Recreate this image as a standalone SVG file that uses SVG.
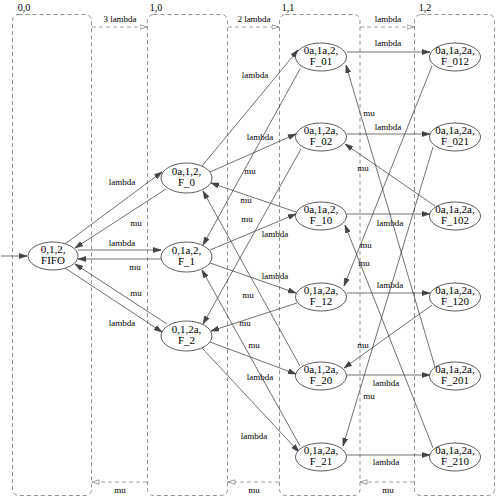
<svg xmlns="http://www.w3.org/2000/svg" width="496" height="498" viewBox="0 0 496 498">
<style>
.cl{fill:none;stroke:#777;stroke-width:0.8;stroke-dasharray:4,3}
.cc{fill:none;stroke:#888;stroke-width:0.8;stroke-dasharray:4,3}
.n{fill:#fff;stroke:#333;stroke-width:0.8}
.e{fill:none;stroke:#333;stroke-width:0.7}
.t{font-family:"Liberation Serif","Times New Roman",serif;font-size:11px;fill:#000;text-anchor:middle}
.l{font-family:"Liberation Serif","Times New Roman",serif;font-size:9px;fill:#000;text-anchor:middle}
.ct{font-family:"Liberation Serif","Times New Roman",serif;font-size:10px;fill:#000;text-anchor:middle}
</style>
<defs>
<marker id="a" markerUnits="userSpaceOnUse" markerWidth="8" markerHeight="6" refX="8" refY="3" orient="auto"><path d="M0,0.4 L8,3 L0,5.6 z" fill="#444" stroke="#333" stroke-width="0.5"/></marker>
<marker id="o" markerUnits="userSpaceOnUse" markerWidth="8" markerHeight="6" refX="7.5" refY="3" orient="auto"><path d="M0.5,0.8 L7.5,3 L0.5,5.2 z" fill="#fff" stroke="#777" stroke-width="0.7"/></marker>
</defs>
<g id="clusters">
<g id="c00"><rect class="cl" x="12.5" y="14.5" width="79" height="481" rx="6"/><text class="ct" x="24" y="11">0,0</text></g>
<g id="c10"><rect class="cl" x="147.5" y="14.5" width="80" height="481" rx="6"/><text class="ct" x="156" y="11">1,0</text></g>
<g id="c11"><rect class="cl" x="279.5" y="14.5" width="80.5" height="481" rx="6"/><text class="ct" x="288" y="11">1,1</text></g>
<g id="c12"><rect class="cl" x="414.5" y="14.5" width="80" height="481" rx="6"/><text class="ct" x="425" y="11">1,2</text></g>
</g>
<g id="connectors">
<line class="cc" x1="92" y1="27" x2="147" y2="27" marker-end="url(#o)"/>
<text class="l" x="120" y="21.5">3 lambda</text>
<line class="cc" x1="228" y1="27" x2="279" y2="27" marker-end="url(#o)"/>
<text class="l" x="254" y="21.5">2 lambda</text>
<line class="cc" x1="360" y1="27" x2="414" y2="27" marker-end="url(#o)"/>
<text class="l" x="388" y="21.5">lambda</text>
<line class="cc" x1="147" y1="482" x2="92" y2="482" marker-end="url(#o)"/>
<text class="l" x="120" y="493">mu</text>
<line class="cc" x1="279" y1="482" x2="228" y2="482" marker-end="url(#o)"/>
<text class="l" x="254" y="493">mu</text>
<line class="cc" x1="414" y1="482" x2="360" y2="482" marker-end="url(#o)"/>
<text class="l" x="388" y="493">mu</text>

<line class="e" x1="1" y1="256" x2="27" y2="256" marker-end="url(#a)"/>

<line class="e" x1="65" y1="244" x2="162" y2="172" marker-end="url(#a)"/>
<text class="l" x="122" y="185">lambda</text>
<line class="e" x1="166" y1="189" x2="75" y2="248" marker-end="url(#a)"/>
<text class="l" x="136" y="226">mu</text>
<line class="e" x1="78" y1="250" x2="161" y2="250" marker-end="url(#a)"/>
<text class="l" x="122" y="246">lambda</text>
<line class="e" x1="161" y1="259" x2="78" y2="259" marker-end="url(#a)"/>
<text class="l" x="135" y="270">mu</text>
<line class="e" x1="65" y1="268" x2="162" y2="332" marker-end="url(#a)"/>
<text class="l" x="122" y="326">lambda</text>
<line class="e" x1="167" y1="324" x2="75" y2="264" marker-end="url(#a)"/>
<text class="l" x="136" y="296">mu</text>

<line class="e" x1="202" y1="166" x2="298" y2="50" marker-end="url(#a)"/>
<text class="l" x="255" y="78">lambda</text>
<line class="e" x1="210" y1="172" x2="296" y2="134" marker-end="url(#a)"/>
<text class="l" x="260" y="140">lambda</text>
<line class="e" x1="300" y1="69" x2="203" y2="245" marker-end="url(#a)"/>
<text class="l" x="250" y="174">mu</text>
<line class="e" x1="301" y1="149" x2="203" y2="324" marker-end="url(#a)"/>
<text class="l" x="246" y="203">mu</text>
<line class="e" x1="296" y1="212" x2="211" y2="183" marker-end="url(#a)"/>
<text class="l" x="247" y="222">mu</text>
<line class="e" x1="210" y1="250" x2="296" y2="214" marker-end="url(#a)"/>
<text class="l" x="275" y="237">lambda</text>
<line class="e" x1="210" y1="263" x2="296" y2="293" marker-end="url(#a)"/>
<text class="l" x="275" y="279">lambda</text>
<line class="e" x1="297" y1="303" x2="211" y2="331" marker-end="url(#a)"/>
<text class="l" x="245" y="326">mu</text>
<line class="e" x1="300" y1="366" x2="203" y2="191" marker-end="url(#a)"/>
<text class="l" x="248" y="298">mu</text>
<line class="e" x1="300" y1="446" x2="202" y2="270" marker-end="url(#a)"/>
<text class="l" x="254" y="348">mu</text>
<line class="e" x1="210" y1="342" x2="296" y2="374" marker-end="url(#a)"/>
<text class="l" x="260" y="380">lambda</text>
<line class="e" x1="202" y1="348" x2="299" y2="452" marker-end="url(#a)"/>
<text class="l" x="254" y="439">lambda</text>

<line class="e" x1="347" y1="52" x2="430" y2="52" marker-end="url(#a)"/>
<text class="l" x="388" y="46">lambda</text>
<line class="e" x1="347" y1="134" x2="430" y2="134" marker-end="url(#a)"/>
<text class="l" x="388" y="130">lambda</text>
<line class="e" x1="347" y1="214" x2="430" y2="214" marker-end="url(#a)"/>
<text class="l" x="390" y="226">lambda</text>
<line class="e" x1="347" y1="293" x2="430" y2="293" marker-end="url(#a)"/>
<text class="l" x="390" y="288">lambda</text>
<line class="e" x1="347" y1="375" x2="430" y2="375" marker-end="url(#a)"/>
<text class="l" x="386" y="386">lambda</text>
<line class="e" x1="347" y1="455" x2="430" y2="455" marker-end="url(#a)"/>
<text class="l" x="386" y="465">lambda</text>

<line class="e" x1="432" y1="66" x2="344" y2="286" marker-end="url(#a)"/>
<text class="l" x="369" y="116">mu</text>
<line class="e" x1="433" y1="147" x2="343" y2="446" marker-end="url(#a)"/>
<text class="l" x="363" y="171">mu</text>
<line class="e" x1="435" y1="206" x2="345" y2="144" marker-end="url(#a)"/>
<text class="l" x="366" y="248">mu</text>
<line class="e" x1="432" y1="305" x2="344" y2="368" marker-end="url(#a)"/>
<text class="l" x="364" y="266">mu</text>
<line class="e" x1="435" y1="367" x2="346" y2="65" marker-end="url(#a)"/>
<text class="l" x="363" y="348">mu</text>
<line class="e" x1="433" y1="448" x2="345" y2="225" marker-end="url(#a)"/>
<text class="l" x="369" y="399">mu</text>
</g>
<g id="FIFO"><ellipse class="n" cx="53" cy="256" rx="25" ry="14"/><text class="t" x="53" y="253">0,1,2,</text><text class="t" x="53" y="264">FIFO</text></g>
<g id="F_0"><ellipse class="n" cx="186.5" cy="178" rx="25.5" ry="15"/><text class="t" x="186.5" y="175">0a,1,2,</text><text class="t" x="186.5" y="186">F_0</text></g>
<g id="F_1"><ellipse class="n" cx="186.5" cy="257" rx="25.5" ry="15"/><text class="t" x="186.5" y="254">0,1a,2,</text><text class="t" x="186.5" y="265">F_1</text></g>
<g id="F_2"><ellipse class="n" cx="186.5" cy="336" rx="25.5" ry="15"/><text class="t" x="186.5" y="333">0,1,2a,</text><text class="t" x="186.5" y="344">F_2</text></g>
<g id="F_01"><ellipse class="n" cx="321" cy="57" rx="25.5" ry="14"/><text class="t" x="321" y="54">0a,1a,2,</text><text class="t" x="321" y="65">F_01</text></g>
<g id="F_02"><ellipse class="n" cx="321" cy="137" rx="25.5" ry="14"/><text class="t" x="321" y="134">0a,1,2a,</text><text class="t" x="321" y="145">F_02</text></g>
<g id="F_10"><ellipse class="n" cx="321" cy="216" rx="25.5" ry="14"/><text class="t" x="321" y="213">0a,1a,2,</text><text class="t" x="321" y="224">F_10</text></g>
<g id="F_12"><ellipse class="n" cx="321" cy="297" rx="25.5" ry="14"/><text class="t" x="321" y="294">0,1a,2a,</text><text class="t" x="321" y="305">F_12</text></g>
<g id="F_20"><ellipse class="n" cx="321" cy="376" rx="25.5" ry="14"/><text class="t" x="321" y="373">0a,1,2a,</text><text class="t" x="321" y="384">F_20</text></g>
<g id="F_21"><ellipse class="n" cx="321" cy="457" rx="25.5" ry="14"/><text class="t" x="321" y="454">0,1a,2a,</text><text class="t" x="321" y="465">F_21</text></g>
<g id="F_012"><ellipse class="n" cx="455" cy="57" rx="25.5" ry="14"/><text class="t" x="455" y="54">0a,1a,2a,</text><text class="t" x="455" y="65">F_012</text></g>
<g id="F_021"><ellipse class="n" cx="455" cy="137" rx="25.5" ry="14"/><text class="t" x="455" y="134">0a,1a,2a,</text><text class="t" x="455" y="145">F_021</text></g>
<g id="F_102"><ellipse class="n" cx="455" cy="216" rx="25.5" ry="14"/><text class="t" x="455" y="213">0a,1a,2a,</text><text class="t" x="455" y="224">F_102</text></g>
<g id="F_120"><ellipse class="n" cx="455" cy="297" rx="25.5" ry="14"/><text class="t" x="455" y="294">0a,1a,2a,</text><text class="t" x="455" y="305">F_120</text></g>
<g id="F_201"><ellipse class="n" cx="455" cy="376" rx="25.5" ry="14"/><text class="t" x="455" y="373">0a,1a,2a,</text><text class="t" x="455" y="384">F_201</text></g>
<g id="F_210"><ellipse class="n" cx="455" cy="457" rx="25.5" ry="14"/><text class="t" x="455" y="454">0a,1a,2a,</text><text class="t" x="455" y="465">F_210</text></g>
</svg>
